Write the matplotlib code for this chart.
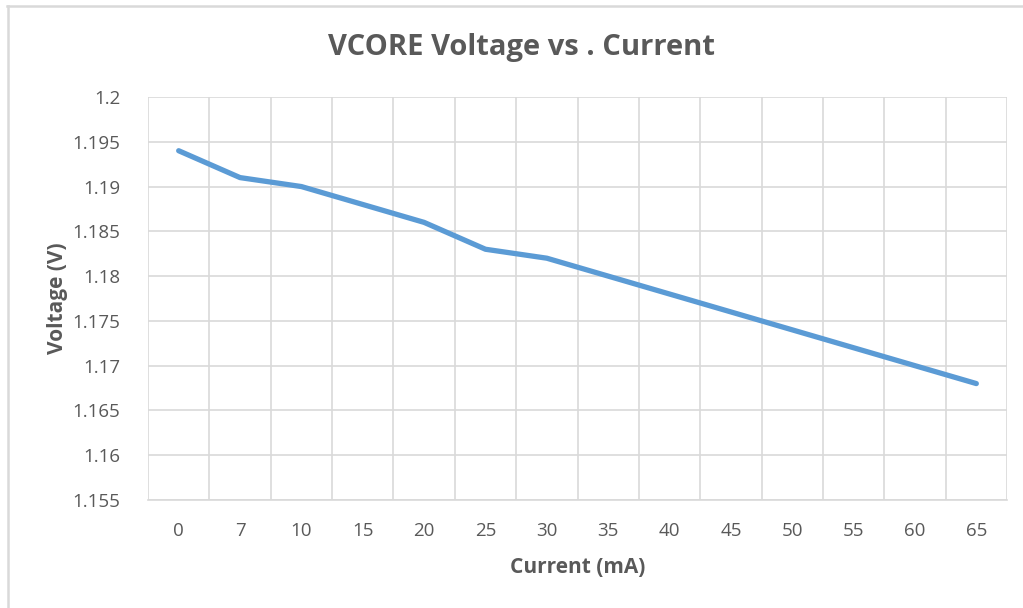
import matplotlib
matplotlib.use("Agg")
import matplotlib.pyplot as plt
from matplotlib.lines import Line2D
import numpy as np

categories = ["0", "7", "10", "15", "20", "25", "30", "35", "40", "45", "50", "55", "60", "65"]
voltage = [1.194, 1.191, 1.190, 1.188, 1.186, 1.183, 1.182, 1.180, 1.178, 1.176, 1.174, 1.172, 1.170, 1.168]
yticks = [1.155, 1.16, 1.165, 1.17, 1.175, 1.18, 1.185, 1.19, 1.195, 1.2]
ytick_labels = ["1.155", "1.16", "1.165", "1.17", "1.175", "1.18", "1.185", "1.19", "1.195", "1.2"]

plt.rcParams['font.family'] = ['Open Sans', 'DejaVu Sans']
W, H = 1023, 608
fig = plt.figure(figsize=(W/100, H/100), dpi=100)
fig.patch.set_facecolor("white")
# outer chart border (top and left visible)
fig.add_artist(Line2D([7/W, 1.0], [1-5.5/H, 1-5.5/H], transform=fig.transFigure, color="#D9D9D9", linewidth=1.8))
fig.add_artist(Line2D([7.5/W, 7.5/W], [0.0, 1-5.5/H], transform=fig.transFigure, color="#D9D9D9", linewidth=1.8))

ax = fig.add_axes([148/W, 1-500/H, (1007-148)/W, (500-97)/H])
x = np.arange(len(categories))
ax.plot(x, voltage, color="#5B9BD5", linewidth=3.8, solid_capstyle="round", solid_joinstyle="round", zorder=3)

ax.set_xlim(-0.5, len(categories)-0.5)
ax.set_ylim(1.155, 1.2)
ax.set_xticks(x)
ax.set_xticklabels(categories)
ax.set_xticks(np.arange(-0.5, len(categories), 1.0), minor=True)
ax.set_yticks(yticks)
ax.set_yticklabels(ytick_labels)
ax.grid(True, which="minor", axis="x", color="#D9D9D9", linewidth=1.2)
ax.grid(True, which="major", axis="y", color="#D9D9D9", linewidth=1.2)
ax.tick_params(axis="both", which="both", length=0, colors="#595959", labelsize=13.5)
ax.tick_params(axis="x", pad=16)
ax.tick_params(axis="y", pad=20)
for s in ["top", "right", "left"]:
    ax.spines[s].set_visible(False)
ax.spines["bottom"].set_color("#D9D9D9")
ax.spines["bottom"].set_linewidth(1.2)

ax.set_xlabel("Current (mA)", fontsize=15, fontweight="bold", color="#595959", labelpad=12)
ax.set_ylabel("Voltage (V)", fontsize=15, fontweight="bold", color="#595959", labelpad=3)
fig.text(522/W, 1-47/H, "VCORE Voltage vs . Current", ha="center", va="center",
         fontsize=21, fontweight="bold", color="#595959")

fig.savefig("out.png", dpi=100)
